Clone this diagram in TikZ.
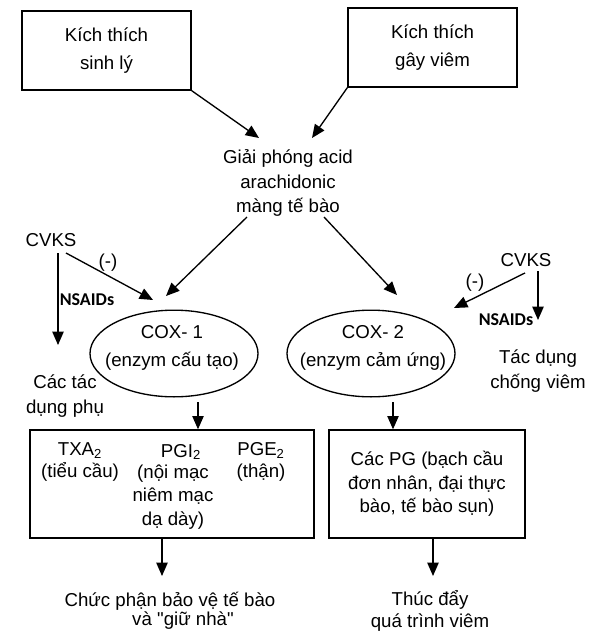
\documentclass[tikz,border=0pt]{standalone}
\usepackage{fontspec}
\setmainfont{Liberation Sans}[Ligatures=TeXOff]
\newfontfamily\nsaidfont{Carlito}
\usetikzlibrary{arrows.meta,shapes.geometric}
\begin{document}
\begin{tikzpicture}[x=0.75pt,y=-0.75pt,
  txt/.style={font=\fontsize{14}{18.4}\selectfont, align=center, inner sep=0pt},
  boxnode/.style={draw, line width=1pt, rectangle, inner sep=0pt, txt},
  oval/.style={draw, line width=1pt, ellipse, inner sep=0pt, minimum width=126pt, minimum height=65pt},
  arr/.style={line width=1pt, -{Triangle[length=10pt,width=8.5pt]}},
  nsaid/.style={font=\nsaidfont\bfseries\fontsize{13.5}{15}\selectfont, inner sep=0pt}]
\useasboundingbox (0,0) rectangle (594,632);

% top boxes
\node[boxnode, minimum width=126.75pt, minimum height=59.25pt] (b1) at (106.5,50.5) {Kích thích\\[2pt]sinh lý};
\node[boxnode, minimum width=126.75pt, minimum height=59.25pt] (b2) at (432.5,47.5) {Kích thích\\[3pt]gây viêm};

% arachidonic acid
\node[txt] (arach) at (288,183) {Giải phóng acid\\arachidonic\\màng tế bào};

\coordinate (t1) at (259,138);
\coordinate (t2) at (312,138);
\draw[arr] (b1.south east) -- (t1);
\draw[arr] (b2.south west) -- (t2);

% COX ellipses
\node[oval] (cox1) at (174,353.5) {};
\node[oval] (cox2) at (371,353.5) {};
\node[txt] (cox1t) at (172,348) {COX- 1\\[3pt](enzym cấu tạo)};
\node[txt] (cox2t) at (373,348) {COX- 2\\[3pt](enzym cảm ứng)};

\coordinate (s3) at (247,217);
\coordinate (t3) at (166,296);
\coordinate (s4) at (324,217);
\coordinate (t4) at (397,295);
\draw[arr] (s3) -- (t3);
\draw[arr] (s4) -- (t4);

% left CVKS
\node[txt] (cvks1) at (51,240) {CVKS};
\node[txt] (neg1) at (108,263) {(-)};
\node[nsaid] (ns1) at (87,300) {NSAIDs};
\node[txt] (side1) at (65,396) {Các tác\\dụng phụ};
\coordinate (v1s) at (58,253);
\coordinate (v1e) at (58,345);
\coordinate (d1s) at (66,253);
\coordinate (d1e) at (153,300);
\draw[arr] (v1s) -- (v1e);
\draw[arr] (d1s) -- (d1e);

% right CVKS
\node[txt] (cvks2) at (526,260) {CVKS};
\node[txt] (neg2) at (475,283) {(-)};
\node[nsaid] (ns2) at (506,320) {NSAIDs};
\node[txt] (side2) at (538,371) {Tác dụng\\chống viêm};
\coordinate (v2s) at (538,271);
\coordinate (v2e) at (538,320);
\coordinate (d2s) at (525,273);
\coordinate (d2e) at (454,308);
\draw[arr] (v2s) -- (v2e);
\draw[arr] (d2s) -- (d2e);

% product boxes
\node[boxnode, minimum width=213pt, minimum height=81pt] (b3) at (172,484) {};
\node[boxnode, minimum width=147pt, minimum height=81pt, font=\fontsize{14}{17.6}\selectfont] (b4) at (427,484) {Các PG (bạch cầu\\đơn nhân, đại thực\\bào, tế bào sụn)};

\node[txt, font=\fontsize{14}{16.5}\selectfont] (txa) at (80,462) {TXA\textsubscript{2}\\(tiểu cầu)};
\node[txt] (pgi) at (181,452) {PGI\textsubscript{2}};
\node[txt, font=\fontsize{14}{17.6}\selectfont] (pgit) at (173,497) {(nội mạc\\niêm mạc\\dạ dày)};
\node[txt, font=\fontsize{14}{16.5}\selectfont] (pge) at (261,462) {PGE\textsubscript{2}\\(thận)};

\coordinate (c1s) at (198,402);
\coordinate (c2s) at (393,402);
\draw[arr] (c1s) -- (c1s |- b3.north);
\draw[arr] (c2s) -- (c2s |- b4.north);

% outcomes
\node[txt] (out1a) at (170,601) {Chức phận bảo vệ tế bào};
\node[txt] (out1b) at (183,621) {và "giữ nhà"};
\node[txt, font=\fontsize{14}{16}\selectfont] (out2) at (430,611) {Thúc đẩy\\quá trình viêm};

\coordinate (e1) at (162,576);
\coordinate (e2) at (433,576);
\draw[arr] (b3.south -| e1) -- (e1);
\draw[arr] (b4.south -| e2) -- (e2);
\end{tikzpicture}
\end{document}
